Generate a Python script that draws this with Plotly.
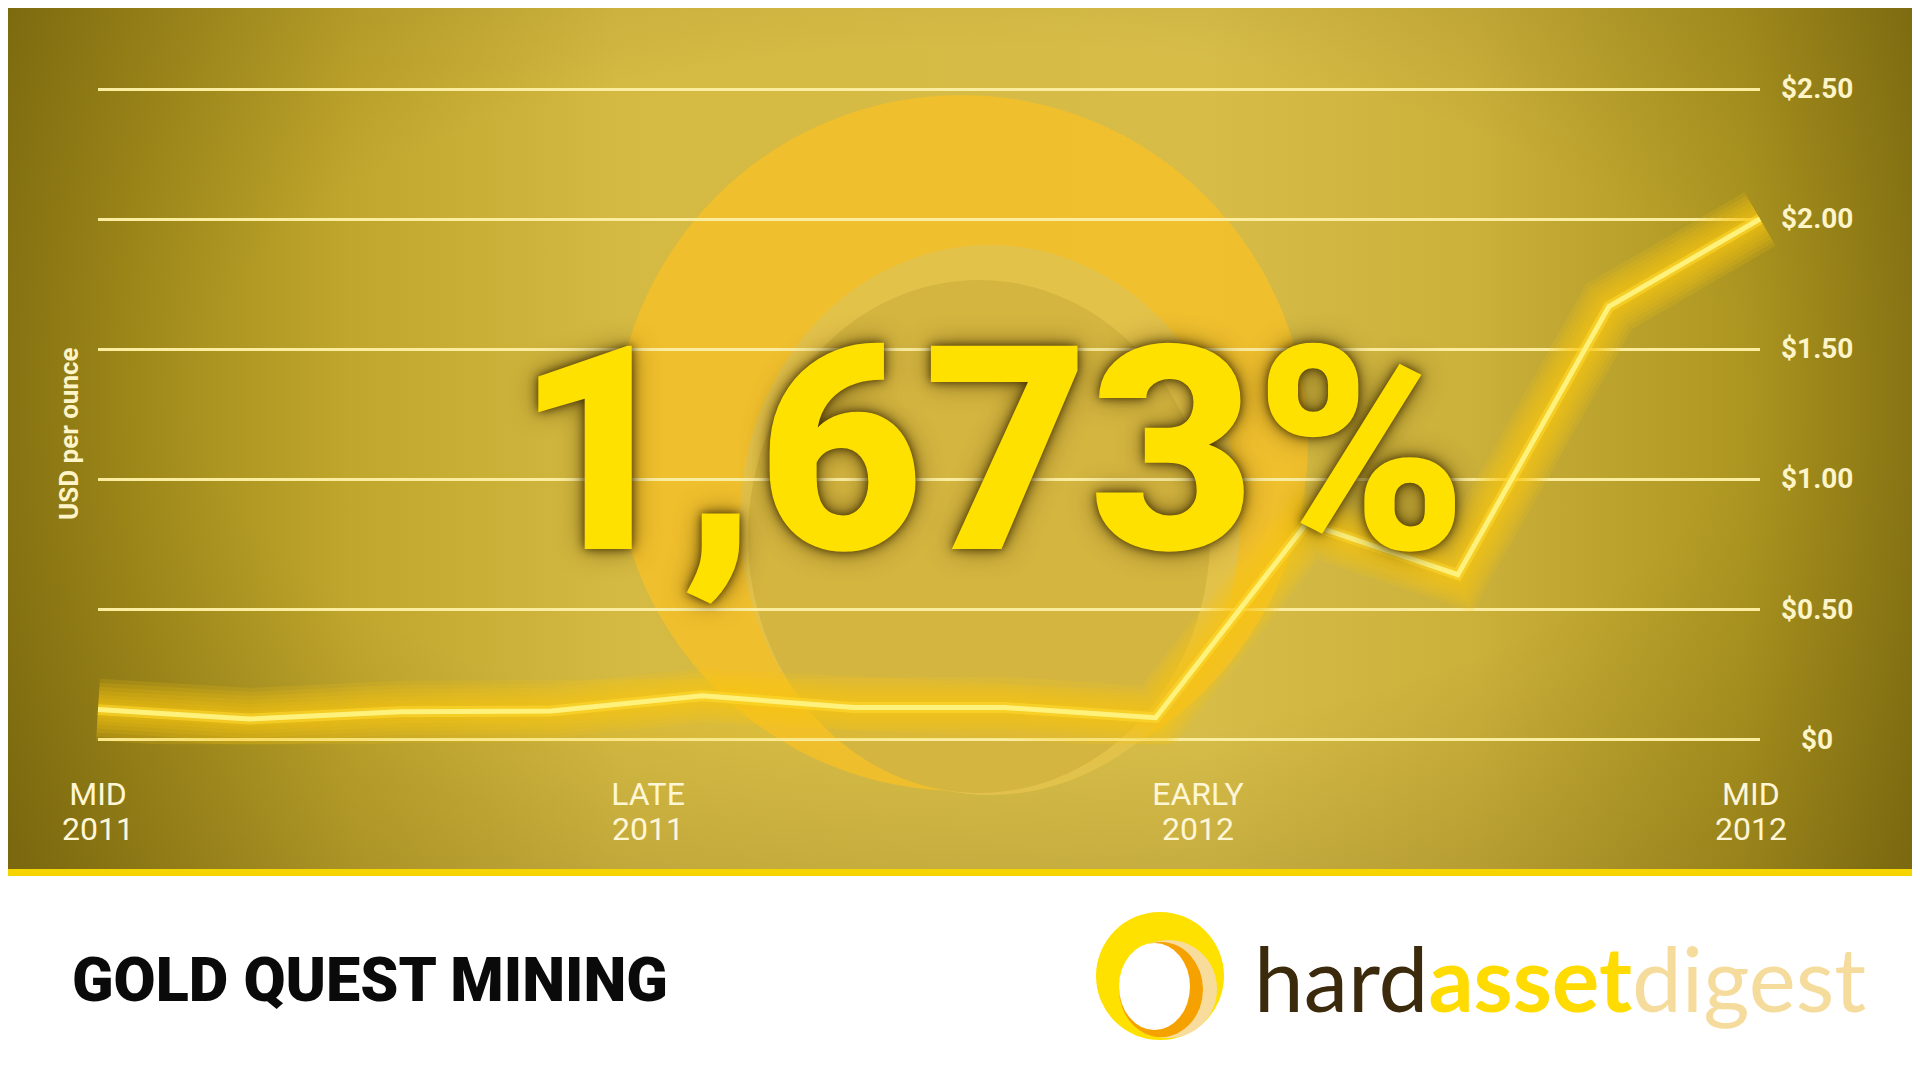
import base64
import plotly.graph_objects as go

W, H = 1920, 1080
OFF = 8  # page body margin in the browser

# ---------------- data ----------------
point_index = list(range(12))
price_usd = [0.113, 0.077, 0.105, 0.108, 0.166, 0.121, 0.121, 0.082, 0.83, 0.632, 1.663, 2.00]
x_tick_positions = [0, 3.64, 7.28, 10.94]
x_tick_period = ["MID", "LATE", "EARLY", "MID"]
x_tick_year = ["2011", "2011", "2012", "2012"]
y_tick_values = [0, 0.5, 1.0, 1.5, 2.0, 2.5]
y_tick_labels = ["$0", "$0.50", "$1.00", "$1.50", "$2.00", "$2.50"]
y_title = "USD per ounce"
headline = "1,673%"
company = "GOLD QUEST MINING"

X_RANGE = [0, 11]
Y_RANGE = [-0.02, 2.52]
PLOT_L, PLOT_R = 98, 1760          # pixel extent of the x range
PLOT_T, PLOT_B = 83.8, 744.2       # pixel extent of the y range


def px(x):
    return (x - OFF) / W


def py(y):
    return 1 - (y - OFF) / H


# ---------------- background (decorative gradient) ----------------
svg = """<svg xmlns="http://www.w3.org/2000/svg" width="1920" height="877" viewBox="0 0 1920 877" preserveAspectRatio="none">
<defs>
<linearGradient id="h" x1="0" y1="0" x2="1" y2="0">
<stop offset="0" stop-color="#8b7712"/>
<stop offset="0.07" stop-color="#a08a1a"/>
<stop offset="0.18" stop-color="#c0a62c"/>
<stop offset="0.32" stop-color="#d4b942"/>
<stop offset="0.62" stop-color="#d7bd48"/>
<stop offset="0.76" stop-color="#cbb03a"/>
<stop offset="0.9" stop-color="#ad9620"/>
<stop offset="1" stop-color="#877412"/>
</linearGradient>
<radialGradient id="r" cx="0.5" cy="0.45" r="0.72">
<stop offset="0.55" stop-color="#3a2c00" stop-opacity="0"/>
<stop offset="1" stop-color="#3a2c00" stop-opacity="0.22"/>
</radialGradient>
</defs>
<rect width="1920" height="877" fill="url(#h)"/>
<rect width="1920" height="877" fill="url(#r)"/>
</svg>"""
svg_uri = "data:image/svg+xml;base64," + base64.b64encode(svg.encode()).decode()

fig = go.Figure()

# invisible trace keeping the main (grid + tick label) subplot alive
fig.add_trace(go.Scatter(x=[point_index[0]], y=[price_usd[0]], mode="markers",
                         marker=dict(opacity=0), hoverinfo="skip",
                         showlegend=False))
# helper trace so the second (year) x axis is drawn
fig.add_trace(go.Scatter(x=[point_index[0]], y=[price_usd[0]], xaxis="x2",
                         mode="markers", marker=dict(opacity=0),
                         hoverinfo="skip", showlegend=False))

# the line itself lives on a slightly wider, identically scaled subplot so
# its glow is not clipped at the first / last point
for w in [62, 54, 46, 38, 30, 23, 16]:
    fig.add_trace(go.Scatter(x=point_index, y=price_usd, mode="lines",
                             xaxis="x3", yaxis="y3",
                             line=dict(color="rgba(250,196,18,0.16)", width=w),
                             hoverinfo="skip", showlegend=False))
fig.add_trace(go.Scatter(x=point_index, y=price_usd, mode="lines",
                         xaxis="x3", yaxis="y3",
                         line=dict(color="rgba(255,216,45,0.6)", width=11),
                         hoverinfo="skip", showlegend=False))
fig.add_trace(go.Scatter(x=point_index, y=price_usd, mode="lines",
                         xaxis="x3", yaxis="y3",
                         line=dict(color="#fff27c", width=5), showlegend=False,
                         name="USD per ounce"))

shapes = []


def ell(x0, y0, x1, y1, color, layer="below"):
    shapes.append(dict(type="circle", xref="paper", yref="paper",
                       x0=px(x0), x1=px(x1), y0=py(y1), y1=py(y0),
                       fillcolor=color, line=dict(width=0), layer=layer))


def rect(x0, y0, x1, y1, color, layer="below"):
    shapes.append(dict(type="rect", xref="paper", yref="paper",
                       x0=px(x0), x1=px(x1), y0=py(y1), y1=py(y0),
                       fillcolor=color, line=dict(width=0), layer=layer))


# big decorative ring behind the chart
ell(614, 95, 1308, 791, "rgba(247,192,40,0.78)")
ell(740, 245, 1240, 795, "rgba(226,194,76,0.95)")
ell(748, 280, 1210, 793, "rgba(211,180,64,0.96)")

# bottom white band + yellow stripe
rect(0, 871, 1930, 1090, "#ffffff")
rect(0, 869, 1930, 876, "#f6d400")

# logo ring
ell(1096, 912, 1224, 1040, "#ffe100", layer="above")
ell(1120, 940, 1217, 1038, "#f8dc9c", layer="above")
ell(1119, 942, 1203, 1037, "#f5a100", layer="above")
ell(1119, 943, 1190, 1030, "#ffffff", layer="above")

annotations = []
for v, t in zip(y_tick_values, y_tick_labels):
    annotations.append(dict(x=px(1817), xref="paper", y=v, yref="y", text=t,
                            showarrow=False, xanchor="center", yanchor="middle",
                            font=dict(family="Roboto", size=28, color="#fdf4c8",
                                      weight=700)))
annotations.append(dict(x=px(69), y=py(434), xref="paper", yref="paper",
                        text=y_title, textangle=-90, showarrow=False,
                        xanchor="center", yanchor="middle",
                        font=dict(family="Roboto", size=26, color="#fdf4c8",
                                  weight=700)))
annotations.append(dict(x=px(991), y=py(451), xref="paper", yref="paper",
                        text=headline, showarrow=False, xanchor="center",
                        yanchor="middle",
                        font=dict(family="Roboto", size=286, color="#ffe100",
                                  weight=900,
                                  shadow="0px 0px 10px rgba(60,42,0,0.95), 0px 0px 26px rgba(80,60,0,0.7)")))
annotations.append(dict(x=px(70), y=py(980), xref="paper", yref="paper",
                        text=company, showarrow=False, xanchor="left",
                        yanchor="middle",
                        font=dict(family="Roboto", size=61, color="#0a0a0a",
                                  weight=900)))
annotations.append(dict(x=px(1252), y=py(977), xref="paper", yref="paper",
                        text=('<span style="color:#3b2a0c">hard</span>'
                              '<span style="color:#ffdb00"><b>asset</b></span>'
                              '<span style="color:#f6dc9c">digest</span>'),
                        showarrow=False, xanchor="left", yanchor="middle",
                        font=dict(family="Lato", size=89, weight=400)))

x_dom = [px(PLOT_L), px(PLOT_R)]
y_dom = [py(PLOT_B), py(PLOT_T)]
tickfont = dict(family="Roboto", size=32, color="#fff6d6")

# wider twin subplot with identical pixel scale
PAD = 60
unit = (PLOT_R - PLOT_L) / (X_RANGE[1] - X_RANGE[0])
x3_range = [X_RANGE[0] - PAD / unit, X_RANGE[1] + PAD / unit]
x3_dom = [px(PLOT_L - PAD), px(PLOT_R + PAD)]

fig.update_layout(
    width=W, height=H,
    margin=dict(l=0, r=0, t=0, b=0, autoexpand=False),
    paper_bgcolor="#ffffff",
    plot_bgcolor="rgba(0,0,0,0)",
    showlegend=False,
    images=[dict(source=svg_uri, xref="paper", yref="paper", x=px(0), y=py(0),
                 sizex=1.01, sizey=876 / H, sizing="stretch", layer="below",
                 xanchor="left", yanchor="top")],
    shapes=shapes,
    annotations=annotations,
    xaxis=dict(domain=x_dom, range=X_RANGE, showgrid=False,
               zeroline=False, showline=False, tickmode="array",
               tickvals=x_tick_positions, ticktext=x_tick_period, ticks="",
               ticklabelstandoff=28, automargin=False, tickfont=tickfont),
    xaxis2=dict(domain=x_dom, range=X_RANGE, overlaying="x", side="bottom",
                anchor="y", showgrid=False, zeroline=False, showline=False,
                tickmode="array", tickvals=x_tick_positions,
                ticktext=x_tick_year, ticks="", ticklabelstandoff=63,
                automargin=False, tickfont=tickfont),
    yaxis=dict(domain=y_dom, range=Y_RANGE,
               tickmode="array", tickvals=y_tick_values, showticklabels=False,
               showgrid=True, gridcolor="#fbeda0", gridwidth=3,
               zeroline=False, showline=False, automargin=False),
    xaxis3=dict(domain=x3_dom, range=x3_range, anchor="y3", visible=False,
                showgrid=False, zeroline=False),
    yaxis3=dict(domain=y_dom, range=Y_RANGE, anchor="x3", visible=False,
                showgrid=False, zeroline=False),
)

fig.write_html("out.html")
